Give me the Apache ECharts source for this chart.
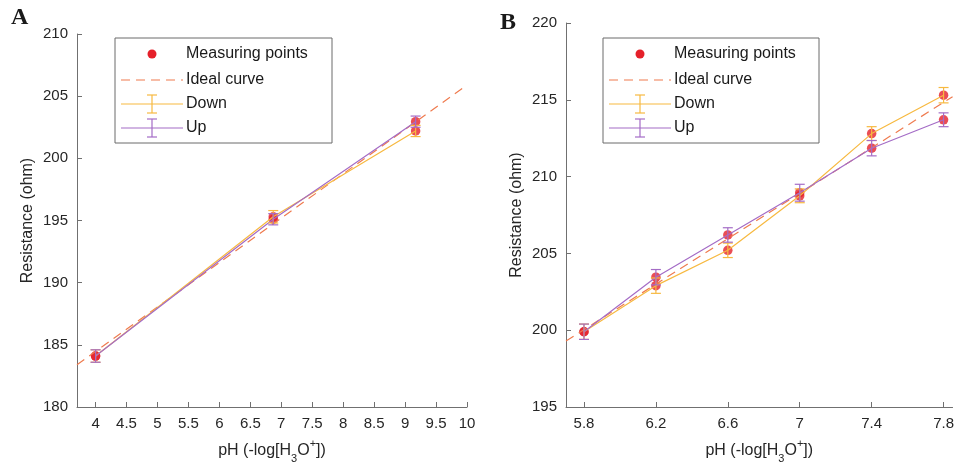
<!DOCTYPE html>
<html>
<head>
<meta charset="utf-8">
<script src="https://cdn.jsdelivr.net/npm/echarts@6.0.0/dist/echarts.min.js"></script>
<style>
  html, body { margin: 0; padding: 0; background: #fff; }
  #chart { width: 957px; height: 469px; }
</style>
</head>
<body>
<div id="chart"></div>
<script>
// panel A
const phA = [4, 6.87, 9.17];
const downA = [184.1, 195.3, 202.2];
const upA = [184.1, 195.1, 202.95];
const downErrA = [0.5, 0.5, 0.45];
const upErrA = [0.5, 0.45, 0.45];
const idealA = [[3.7, 183.4], [10, 205.9]];
const xTicksA = [4, 4.5, 5, 5.5, 6, 6.5, 7, 7.5, 8, 8.5, 9, 9.5, 10];

// panel B
const phB = [5.8, 6.2, 6.6, 7, 7.4, 7.8];
const downB = [199.9, 202.9, 205.2, 208.75, 212.8, 215.3];
const upB = [199.9, 203.45, 206.2, 208.95, 211.85, 213.7];
const downErrB = [0.5, 0.5, 0.47, 0.45, 0.45, 0.5];
const upErrB = [0.5, 0.5, 0.47, 0.55, 0.5, 0.45];
const idealB = [[5.7, 199.3], [7.85, 215.2]];
const xTicksB = [5.8, 6.2, 6.6, 7, 7.4, 7.8];

const legendNames = ['Measuring points', 'Ideal curve', 'Down', 'Up'];

const RED = '#e5202a';
const IDEAL = '#ef7b4f';
const DOWN = '#f7b940';
const UP = '#a46cc6';
const FONT = 'Liberation Sans';

const pairs = (xs, ys) => xs.map((x, i) => [x, ys[i]]);
const triples = (xs, ys, es) => xs.map((x, i) => [x, ys[i], es[i]]);

function errorBarItem(params, api) {
    const x = api.value(0), y = api.value(1), e = api.value(2);
    const top = api.coord([x, y + e]);
    const bot = api.coord([x, y - e]);
    const hw = 5;
    const style = { stroke: api.visual('color'), lineWidth: 1.2, fill: null };
    return {
        type: 'group',
        children: [
            { type: 'line', shape: { x1: top[0], y1: top[1], x2: bot[0], y2: bot[1] }, style },
            { type: 'line', shape: { x1: top[0] - hw, y1: top[1], x2: top[0] + hw, y2: top[1] }, style },
            { type: 'line', shape: { x1: bot[0] - hw, y1: bot[1], x2: bot[0] + hw, y2: bot[1] }, style }
        ]
    };
}

function panelSeries(idx, ph, down, up, downErr, upErr, ideal) {
    return [
        {
            name: 'Measuring points', type: 'scatter', xAxisIndex: idx, yAxisIndex: idx,
            data: pairs(ph, down).concat(pairs(ph, up)),
            symbolSize: 9.5, itemStyle: { color: RED }, z: 2, silent: true
        },
        {
            name: 'Ideal curve', type: 'line', xAxisIndex: idx, yAxisIndex: idx,
            data: ideal, symbol: 'none',
            lineStyle: { color: IDEAL, width: 1.2, type: [9, 6] }, z: 3, silent: true
        },
        {
            name: 'Down', type: 'line', xAxisIndex: idx, yAxisIndex: idx,
            data: pairs(ph, down), symbol: 'none',
            lineStyle: { color: DOWN, width: 1.2 }, z: 3, silent: true
        },
        {
            name: 'Down', type: 'custom', xAxisIndex: idx, yAxisIndex: idx,
            data: triples(ph, down, downErr), renderItem: errorBarItem,
            encode: { x: 0, y: 1 }, itemStyle: { color: DOWN }, z: 4, silent: true
        },
        {
            name: 'Up', type: 'line', xAxisIndex: idx, yAxisIndex: idx,
            data: pairs(ph, up), symbol: 'none',
            lineStyle: { color: UP, width: 1.2 }, z: 3, silent: true
        },
        {
            name: 'Up', type: 'custom', xAxisIndex: idx, yAxisIndex: idx,
            data: triples(ph, up, upErr), renderItem: errorBarItem,
            encode: { x: 0, y: 1 }, itemStyle: { color: UP }, z: 4, silent: true
        }
    ];
}

const axisLine = { lineStyle: { color: '#707070', width: 1 } };
const labelStyle = { color: '#262626', fontSize: 15, fontFamily: FONT };

function xAxisFor(idx, min, max, ticks) {
    return {
        type: 'value', gridIndex: idx, min: min, max: max,
        axisLine: axisLine,
        axisTick: { inside: true, length: 5, customValues: ticks, lineStyle: { color: '#707070' } },
        axisLabel: Object.assign({ customValues: ticks, margin: 9 }, labelStyle),
        splitLine: { show: false },
        name: '{a|pH (-log[H}{sub|3}{a|O}{sup|+}{a|])}',
        nameLocation: 'middle', nameGap: 31,
        nameTextStyle: {
            rich: {
                a: { fontSize: 16, fontFamily: FONT, color: '#262626', lineHeight: 26, verticalAlign: 'middle' },
                sub: { fontSize: 11, fontFamily: FONT, color: '#262626', lineHeight: 11, verticalAlign: 'bottom' },
                sup: { fontSize: 11, fontFamily: FONT, color: '#262626', lineHeight: 11, verticalAlign: 'top' }
            }
        }
    };
}

function yAxisFor(idx, min, max) {
    return {
        type: 'value', gridIndex: idx, min: min, max: max, interval: 5,
        axisLine: { show: true, lineStyle: axisLine.lineStyle },
        axisTick: { show: true, inside: true, length: 5, lineStyle: { color: '#707070' } },
        axisLabel: Object.assign({ margin: 9 }, labelStyle),
        splitLine: { show: false },
        name: 'Resistance (ohm)', nameLocation: 'middle', nameGap: 41,
        nameTextStyle: { fontSize: 16, fontFamily: FONT, color: '#262626' }
    };
}

// legend box drawn with graphic elements
function legendBox(left, top, width) {
    const rows = [16, 42, 66, 90];
    const x1 = left + 6, x2 = left + 68, xm = left + 37;
    const txt = left + 71;
    const items = [
        { type: 'rect', shape: { x: left, y: top, width: width, height: 105 },
          style: { fill: '#fff', stroke: '#6a6a6a', lineWidth: 1 }, z: 10 },
        { type: 'circle', shape: { cx: xm, cy: top + rows[0], r: 4.5 }, style: { fill: RED }, z: 11 },
        { type: 'line', shape: { x1: x1, y1: top + rows[1], x2: x2, y2: top + rows[1] },
          style: { stroke: IDEAL, lineWidth: 1.2, lineDash: [9, 6] }, z: 11 }
    ];
    [[DOWN, rows[2]], [UP, rows[3]]].forEach(([c, r]) => {
        const cy = top + r;
        const st = { stroke: c, lineWidth: 1.2 };
        items.push({ type: 'line', shape: { x1: x1, y1: cy, x2: x2, y2: cy }, style: st, z: 11 });
        items.push({ type: 'line', shape: { x1: xm, y1: cy - 9, x2: xm, y2: cy + 9 }, style: st, z: 11 });
        items.push({ type: 'line', shape: { x1: xm - 5, y1: cy - 9, x2: xm + 5, y2: cy - 9 }, style: st, z: 11 });
        items.push({ type: 'line', shape: { x1: xm - 5, y1: cy + 9, x2: xm + 5, y2: cy + 9 }, style: st, z: 11 });
    });
    legendNames.forEach((n, i) => {
        items.push({
            type: 'text', x: txt, y: top + rows[i], z: 11,
            style: { text: n, fontSize: 16, fontFamily: FONT, fill: '#1a1a1a', verticalAlign: 'middle' }
        });
    });
    return items;
}

const myChart = echarts.init(document.getElementById('chart'));
const option = {
    animation: false,
    backgroundColor: '#fff',
    grid: [
        { left: 77, top: 34, width: 390, height: 377 },
        { left: 566, top: 23, width: 391, height: 387 }
    ],
    xAxis: [xAxisFor(0, 3.7, 10, xTicksA), xAxisFor(1, 5.7, 7.85, xTicksB)],
    yAxis: [yAxisFor(0, 180, 210), yAxisFor(1, 195, 220)],
    series: panelSeries(0, phA, downA, upA, downErrA, upErrA, idealA)
        .concat(panelSeries(1, phB, downB, upB, downErrB, upErrB, idealB)),
    graphic: [
        { type: 'text', x: 11, y: 6, style: { text: 'A', fontSize: 24, fontWeight: 'bold', fontFamily: 'Liberation Serif', fill: '#1a1a1a' } },
        { type: 'text', x: 500, y: 11, style: { text: 'B', fontSize: 24, fontWeight: 'bold', fontFamily: 'Liberation Serif', fill: '#1a1a1a' } }
    ].concat(legendBox(115, 38, 217), legendBox(603, 38, 216))
};
myChart.setOption(option);
</script>
</body>
</html>
